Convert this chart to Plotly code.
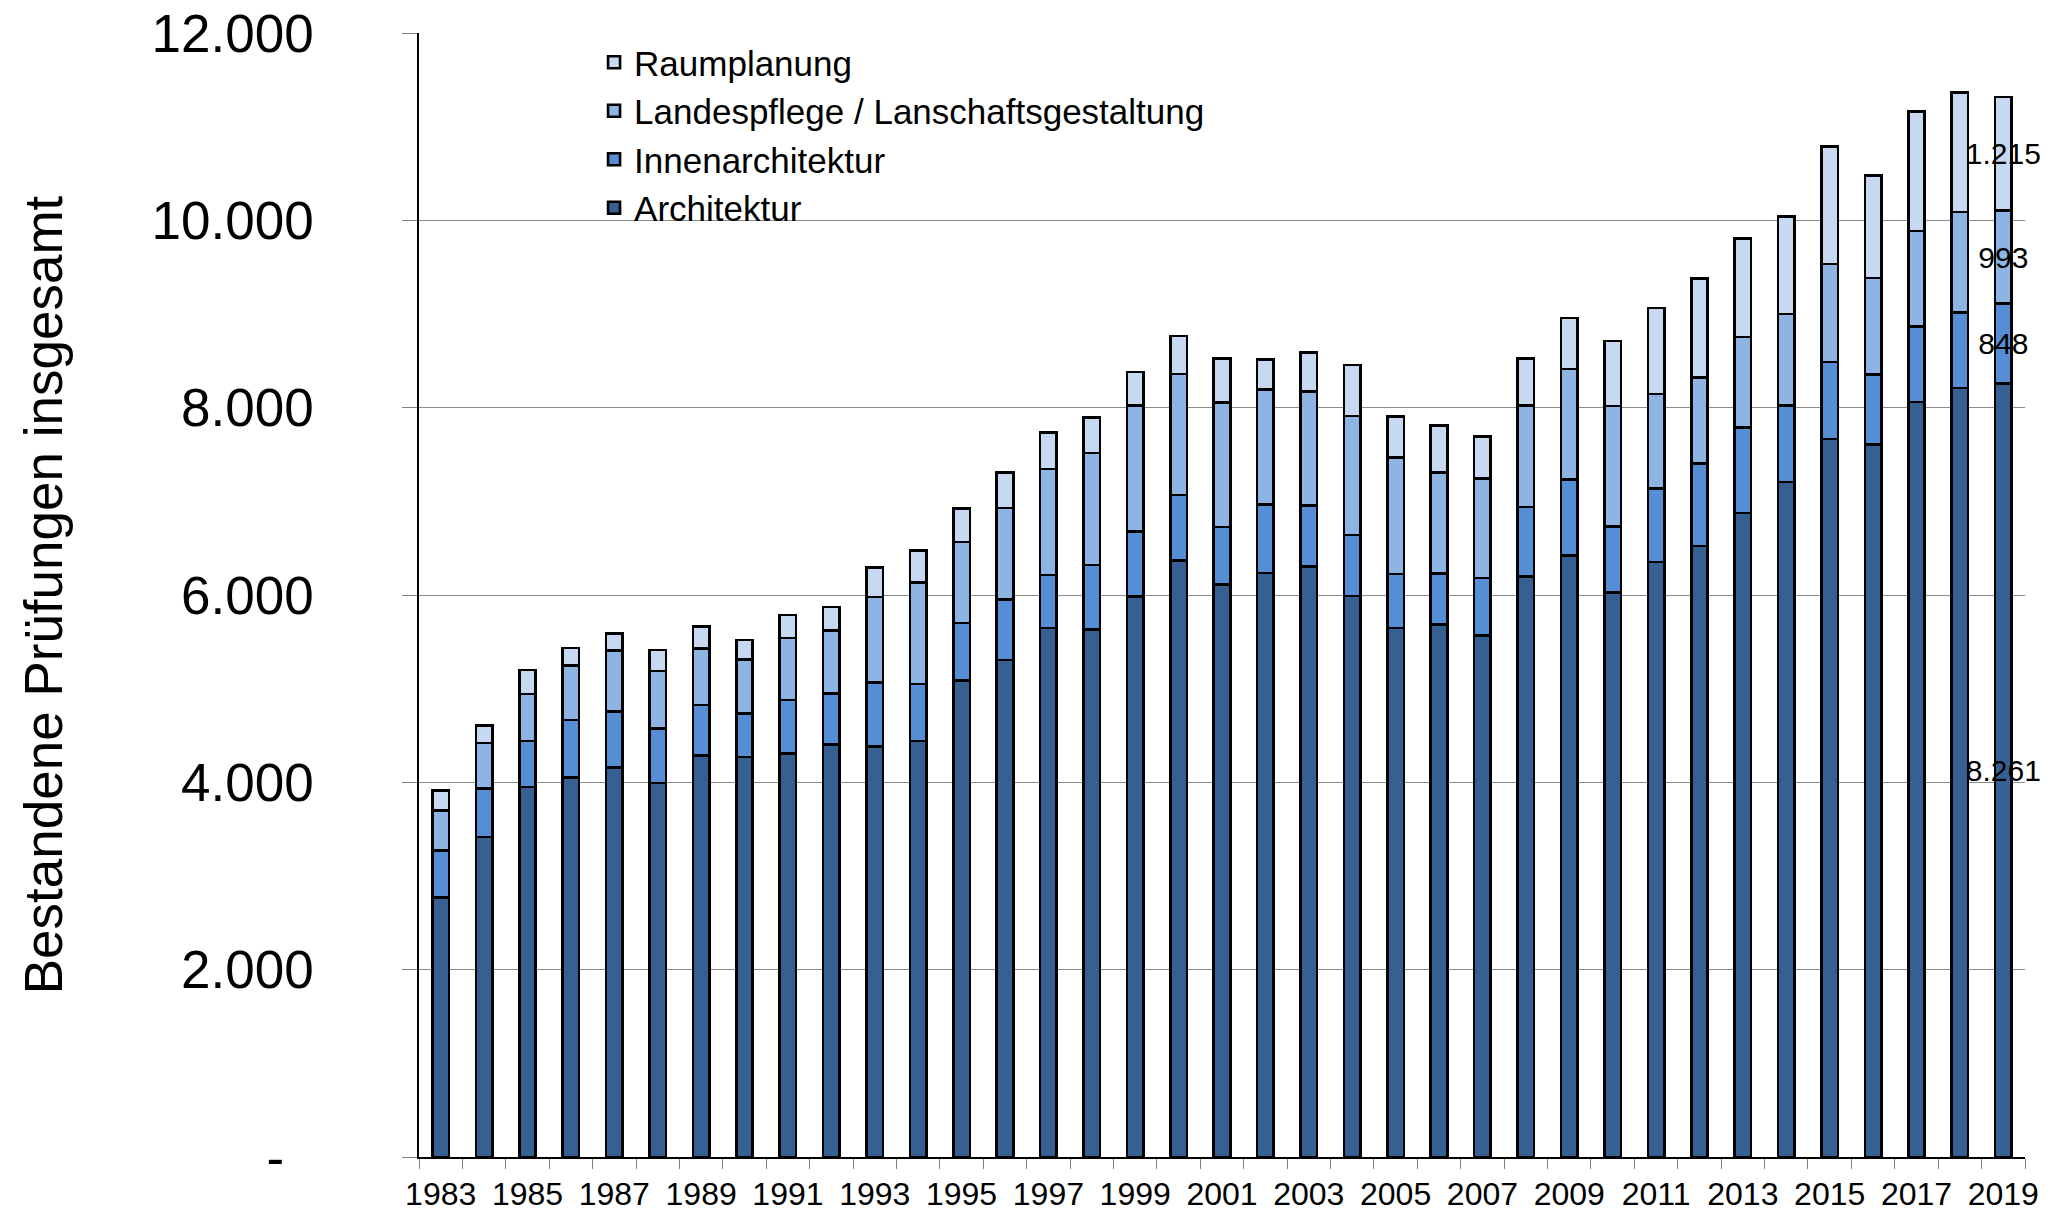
import plotly.graph_objects as go

years = list(range(1983, 2020))

architektur = [2770, 3415, 3951, 4049, 4159, 3992, 4286, 4270, 4307, 4405,
               4380, 4442, 5088, 5305, 5648, 5632, 5984, 6368, 6110, 6233,
               6307, 5988, 5648, 5685, 5566, 6195, 6424, 6028, 6352, 6524,
               6877, 7206, 7664, 7606, 8059, 8212, 8261]
innenarchitektur = [500, 520, 491, 618, 598, 581, 540, 462, 572, 544,
                    687, 609, 613, 650, 565, 687, 691, 699, 614, 736,
                    646, 654, 577, 544, 615, 744, 806, 701, 782, 877,
                    911, 820, 825, 749, 806, 806, 848]
landespflege = [430, 486, 503, 580, 650, 617, 601, 577, 663, 671,
                913, 1084, 867, 973, 1133, 1198, 1350, 1293, 1329, 1223,
                1219, 1268, 1243, 1080, 1063, 1087, 1182, 1288, 1011, 921,
                968, 973, 1044, 1030, 1021, 1073, 993]
raumplanung = [214, 184, 253, 189, 180, 225, 234, 212, 245, 253,
               314, 339, 356, 381, 392, 377, 355, 405, 475, 323,
               417, 544, 438, 499, 448, 496, 544, 696, 920, 1058,
               1053, 1044, 1258, 1092, 1277, 1272, 1215]

series = [
    ("Architektur", architektur, "#376092"),
    ("Innenarchitektur", innenarchitektur, "#558ED5"),
    ("Landespflege / Lanschaftsgestaltung", landespflege, "#8EB4E3"),
    ("Raumplanung", raumplanung, "#C6D9F1"),
]

y_ticks = [0, 2000, 4000, 6000, 8000, 10000, 12000]
y_ticktext = ["-\u00a0\u00a0", "2.000", "4.000", "6.000", "8.000", "10.000", "12.000"]
x_tickvals = years[::2]


def de(v):
    return f"{v:,}".replace(",", ".")


FONT = "Liberation Sans, Arial, Helvetica, sans-serif"

fig = go.Figure()
for name, vals, color in series:
    labels = [""] * (len(vals) - 1) + [de(vals[-1])]
    fig.add_trace(go.Bar(
        x=years, y=vals, name=name,
        marker=dict(color=color, line=dict(color="black", width=2.6)),
        width=0.38,
        text=labels,
        textposition="inside",
        insidetextanchor="middle",
        textangle=0,
        constraintext="none",
        textfont=dict(color="black", size=30, family=FONT),
        cliponaxis=False,
    ))

boundaries = [y - 0.5 for y in years] + [years[-1] + 0.5]

# the page adds an 8px body margin, so the figure is sized to fit inside it
fig.update_layout(
    barmode="stack",
    width=2059, height=1203,
    paper_bgcolor="white", plot_bgcolor="white",
    margin=dict(l=411, r=42, t=25, b=54),
    font=dict(family=FONT, color="black"),
    showlegend=True,
    legend=dict(
        traceorder="reversed",
        x=0.109, y=1.0, xanchor="left", yanchor="top",
        font=dict(size=35, family=FONT, color="black"),
        bgcolor="rgba(0,0,0,0)",
        itemwidth=30,
        tracegroupgap=0,
    ),
    xaxis=dict(
        automargin=False,
        range=[years[0] - 0.5, years[-1] + 0.5],
        tickmode="array", tickvals=x_tickvals,
        ticktext=[str(v) for v in x_tickvals],
        ticks="",
        ticklabelstandoff=8,
        ticklabeloverflow="allow",
        tickfont=dict(size=32, family=FONT, color="black"),
        showline=True, linecolor="black", linewidth=1.5,
        showgrid=False, zeroline=False,
        minor=dict(tickmode="array", tickvals=boundaries, ticks="outside",
                   ticklen=10, tickcolor="#7f7f7f", tickwidth=1.2, showgrid=False),
    ),
    yaxis=dict(
        automargin=False,
        range=[0, 12000],
        tickmode="array", tickvals=y_ticks, ticktext=y_ticktext,
        ticks="outside", ticklen=15, tickcolor="#7f7f7f", tickwidth=1.2,
        ticklabelstandoff=78,
        ticklabeloverflow="allow",
        tickfont=dict(size=53, family=FONT, color="black"),
        showline=True, linecolor="black", linewidth=1.5,
        showgrid=True, gridcolor="#8c8c8c", gridwidth=1.3,
        zeroline=False,
        title=dict(text="Bestandene Prüfungen insgesamt",
                   font=dict(size=53, family=FONT, color="black"),
                   standoff=72),
    ),
)

fig.write_html("out.html")
